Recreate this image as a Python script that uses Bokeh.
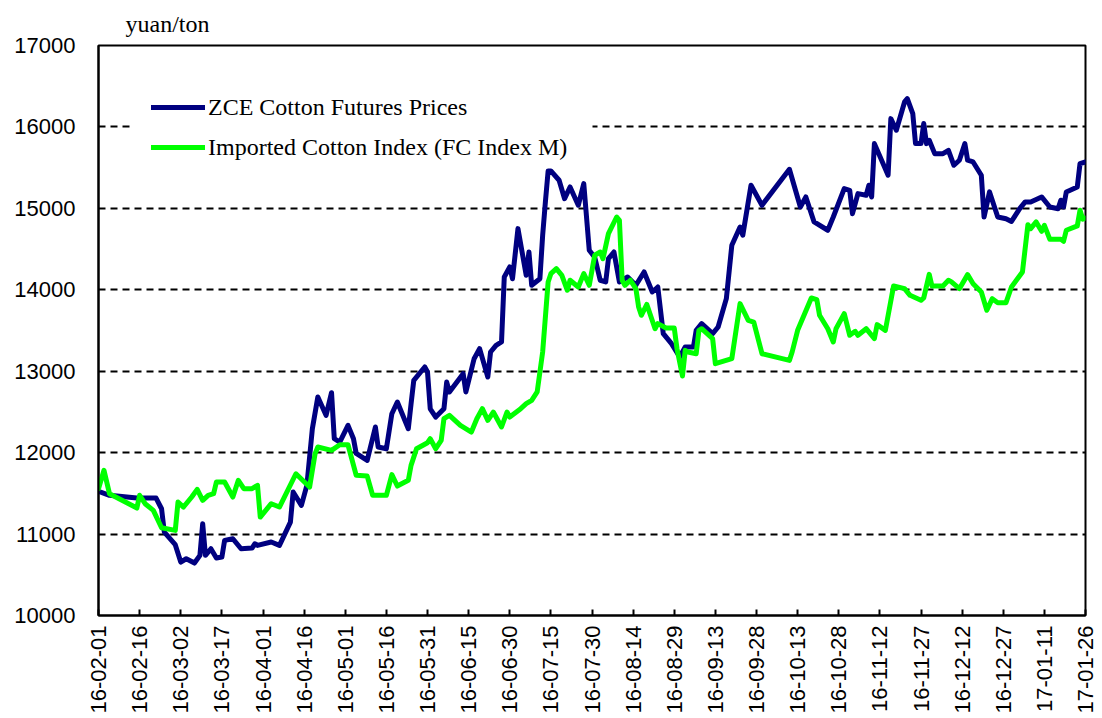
import math
import pandas as pd
from bokeh.plotting import figure
from bokeh.models import (Range1d, FixedTicker, DatetimeTickFormatter, Title, Legend, BoxAnnotation)
from bokeh.embed import file_html
from bokeh.resources import INLINE

# ---------------- data ----------------
zce_dates = [
    "2016-02-01", "2016-02-05", "2016-02-15", "2016-02-22", "2016-02-24", "2016-02-25", "2016-02-29",
    "2016-03-02", "2016-03-04", "2016-03-07", "2016-03-09", "2016-03-10", "2016-03-11", "2016-03-13",
    "2016-03-15", "2016-03-17", "2016-03-18", "2016-03-21", "2016-03-24", "2016-03-28", "2016-03-29",
    "2016-03-30", "2016-04-04", "2016-04-07", "2016-04-11", "2016-04-12", "2016-04-15", "2016-04-17",
    "2016-04-19", "2016-04-21", "2016-04-24", "2016-04-26", "2016-04-27", "2016-04-29", "2016-05-02",
    "2016-05-04", "2016-05-05", "2016-05-09", "2016-05-12", "2016-05-13", "2016-05-16", "2016-05-18",
    "2016-05-20", "2016-05-24", "2016-05-25", "2016-05-26", "2016-05-30", "2016-05-31", "2016-06-01",
    "2016-06-03", "2016-06-06", "2016-06-07", "2016-06-08", "2016-06-13", "2016-06-14", "2016-06-17",
    "2016-06-19", "2016-06-22", "2016-06-23", "2016-06-25", "2016-06-27", "2016-06-28", "2016-06-30",
    "2016-07-01", "2016-07-03", "2016-07-06", "2016-07-07", "2016-07-08", "2016-07-11", "2016-07-12",
    "2016-07-13", "2016-07-14", "2016-07-15", "2016-07-18", "2016-07-20", "2016-07-22", "2016-07-25",
    "2016-07-27", "2016-07-29", "2016-07-31", "2016-08-02", "2016-08-04", "2016-08-05", "2016-08-07",
    "2016-08-09", "2016-08-12", "2016-08-15", "2016-08-18", "2016-08-21", "2016-08-23", "2016-08-25",
    "2016-08-28", "2016-08-31", "2016-09-02", "2016-09-05", "2016-09-06", "2016-09-08", "2016-09-12",
    "2016-09-14", "2016-09-17", "2016-09-19", "2016-09-22", "2016-09-23", "2016-09-26", "2016-09-30",
    "2016-10-10", "2016-10-14", "2016-10-16", "2016-10-19", "2016-10-24", "2016-10-26", "2016-10-30",
    "2016-11-01", "2016-11-02", "2016-11-04", "2016-11-07", "2016-11-08", "2016-11-09", "2016-11-10",
    "2016-11-15", "2016-11-16", "2016-11-18", "2016-11-21", "2016-11-22", "2016-11-24", "2016-11-25",
    "2016-11-27", "2016-11-28", "2016-11-29", "2016-11-30", "2016-12-02", "2016-12-05", "2016-12-07",
    "2016-12-09", "2016-12-11", "2016-12-13", "2016-12-14", "2016-12-16", "2016-12-19", "2016-12-20",
    "2016-12-22", "2016-12-25", "2016-12-28", "2016-12-30", "2017-01-02", "2017-01-04", "2017-01-06",
    "2017-01-10", "2017-01-13", "2017-01-16", "2017-01-17", "2017-01-18", "2017-01-19", "2017-01-23",
    "2017-01-24", "2017-01-26",
]
zce_values = [
    11525, 11476, 11442, 11442, 11311, 11025, 10869,
    10656, 10697, 10644, 10739, 11127, 10739, 10820,
    10706, 10718, 10923, 10943, 10820, 10828, 10881,
    10861, 10902, 10861, 11147, 11516, 11352, 11598,
    12294, 12683, 12458, 12736, 12171, 12130, 12335,
    12171, 11990, 11905, 12315, 12069, 12048, 12478,
    12622, 12294, 12597, 12888, 13052, 12990, 12539,
    12437, 12540, 12867, 12745, 12970, 12745, 13153,
    13277, 12929, 13236, 13318, 13359, 14157, 14280,
    14136, 14751, 14178, 14464, 14055, 14136, 14669,
    15079, 15460, 15460, 15345, 15119, 15263, 15038,
    15304, 14485, 14400, 14117, 14096, 14382, 14464,
    14096, 14157, 14055, 14219, 13973, 14034, 13461,
    13338, 13174, 13297, 13297, 13502, 13584, 13461,
    13543, 13891, 14547, 14771, 14670, 15284, 15038,
    15480, 15017, 15140, 14833, 14731, 14894, 15242,
    15222, 14935, 15181, 15161, 15284, 15140, 15795,
    15407, 16102, 15959, 16307, 16348, 16164, 15795,
    15795, 16041, 15795, 15836, 15672, 15672, 15713,
    15529, 15591, 15795, 15591, 15570, 15407, 14894,
    15202, 14894, 14873, 14840, 14996, 15079, 15079,
    15140, 15017, 14996, 15100, 15017, 15202, 15263,
    15549, 15570,
]

fc_dates = [
    "2016-02-01", "2016-02-03", "2016-02-05", "2016-02-15", "2016-02-16", "2016-02-18", "2016-02-21",
    "2016-02-24", "2016-02-29", "2016-03-01", "2016-03-03", "2016-03-06", "2016-03-08", "2016-03-10",
    "2016-03-12", "2016-03-14", "2016-03-15", "2016-03-18", "2016-03-21", "2016-03-23", "2016-03-25",
    "2016-03-28", "2016-03-30", "2016-03-31", "2016-04-04", "2016-04-07", "2016-04-13", "2016-04-18",
    "2016-04-20", "2016-04-21", "2016-04-26", "2016-04-29", "2016-05-02", "2016-05-05", "2016-05-09",
    "2016-05-11", "2016-05-16", "2016-05-18", "2016-05-20", "2016-05-24", "2016-05-25", "2016-05-27",
    "2016-05-31", "2016-06-01", "2016-06-03", "2016-06-05", "2016-06-06", "2016-06-08", "2016-06-12",
    "2016-06-16", "2016-06-18", "2016-06-20", "2016-06-22", "2016-06-24", "2016-06-27", "2016-06-29",
    "2016-06-30", "2016-07-04", "2016-07-06", "2016-07-08", "2016-07-10", "2016-07-12", "2016-07-14",
    "2016-07-15", "2016-07-17", "2016-07-19", "2016-07-21", "2016-07-22", "2016-07-25", "2016-07-27",
    "2016-07-29", "2016-07-31", "2016-08-02", "2016-08-03", "2016-08-05", "2016-08-08", "2016-08-09",
    "2016-08-10", "2016-08-11", "2016-08-13", "2016-08-15", "2016-08-16", "2016-08-17", "2016-08-19",
    "2016-08-22", "2016-08-23", "2016-08-26", "2016-08-29", "2016-08-30", "2016-09-01", "2016-09-02",
    "2016-09-03", "2016-09-06", "2016-09-07", "2016-09-08", "2016-09-12", "2016-09-13", "2016-09-19",
    "2016-09-22", "2016-09-25", "2016-09-27", "2016-09-30", "2016-10-10", "2016-10-11", "2016-10-13",
    "2016-10-18", "2016-10-20", "2016-10-21", "2016-10-24", "2016-10-26", "2016-10-27", "2016-10-30",
    "2016-11-01", "2016-11-03", "2016-11-04", "2016-11-07", "2016-11-10", "2016-11-11", "2016-11-14",
    "2016-11-17", "2016-11-21", "2016-11-23", "2016-11-27", "2016-11-28", "2016-11-30", "2016-12-01",
    "2016-12-05", "2016-12-07", "2016-12-08", "2016-12-11", "2016-12-14", "2016-12-16", "2016-12-19",
    "2016-12-21", "2016-12-23", "2016-12-25", "2016-12-28", "2016-12-30", "2017-01-03", "2017-01-05",
    "2017-01-06", "2017-01-08", "2017-01-10", "2017-01-11", "2017-01-13", "2017-01-17", "2017-01-18",
    "2017-01-19", "2017-01-23", "2017-01-24", "2017-01-25", "2017-01-26",
]
fc_values = [
    11557, 11783, 11496, 11320, 11476, 11373, 11291,
    11078, 11045, 11393, 11332, 11455, 11549, 11414,
    11476, 11496, 11639, 11639, 11455, 11660, 11557,
    11557, 11598, 11209, 11373, 11332, 11741, 11578,
    11987, 12069, 12028, 12097, 12097, 11721, 11712,
    11476, 11476, 11730, 11590, 11660, 11844, 12048,
    12122, 12171, 12048, 12151, 12417, 12458, 12335,
    12253, 12417, 12540, 12397, 12499, 12315, 12499,
    12437, 12540, 12601, 12642, 12745, 13236, 14096,
    14198, 14259, 14178, 13994, 14117, 14034, 14198,
    14055, 14424, 14464, 14382, 14690, 14894, 14853,
    14117, 14055, 14117, 14014, 13789, 13687, 13820,
    13522, 13584, 13531, 13531, 13277, 12941, 13256,
    13236, 13215, 13502, 13522, 13400, 13092, 13154,
    13830, 13625, 13604, 13215, 13133, 13236, 13502,
    13899, 13880, 13687, 13522, 13359, 13522, 13707,
    13441, 13490, 13441, 13522, 13400, 13572, 13502,
    14047, 14014, 13932, 13871, 13900, 14190, 14047,
    14047, 14117, 14100, 14014, 14186, 14075, 13973,
    13748, 13891, 13842, 13842, 14034, 14219, 14800,
    14751, 14833, 14718, 14792, 14620, 14620, 14596,
    14731, 14784, 14977, 14867, 14880,
]

tick_dates = [
    "2016-02-01", "2016-02-16", "2016-03-02", "2016-03-17", "2016-04-01", "2016-04-16",
    "2016-05-01", "2016-05-16", "2016-05-31", "2016-06-15", "2016-06-30", "2016-07-15",
    "2016-07-30", "2016-08-14", "2016-08-29", "2016-09-13", "2016-09-28", "2016-10-13",
    "2016-10-28", "2016-11-12", "2016-11-27", "2016-12-12", "2016-12-27", "2017-01-11",
    "2017-01-26",
]
y_ticks = [10000, 11000, 12000, 13000, 14000, 15000, 16000, 17000]

series_names = ["ZCE Cotton Futures Prices", "Imported Cotton Index (FC Index M)"]
unit_label = "yuan/ton"

# ---------------- figure ----------------
zx = pd.to_datetime(zce_dates)
fx = pd.to_datetime(fc_dates)
tick_ms = [int(pd.Timestamp(d).value // 10**6) for d in tick_dates]

p = figure(width=1100, height=716, x_axis_type="datetime",
           output_backend="svg", toolbar_location=None,
           min_border_left=98, min_border_right=15, min_border_top=44, min_border_bottom=101)
p.x_range = Range1d(pd.Timestamp(tick_dates[0]), pd.Timestamp(tick_dates[-1]))
p.y_range = Range1d(y_ticks[0], y_ticks[-1])

# grid
p.xgrid.grid_line_color = None
p.ygrid.ticker = FixedTicker(ticks=y_ticks[1:-1])
p.ygrid.grid_line_color = "black"
p.ygrid.grid_line_width = 2
p.ygrid.grid_line_dash = "7 5"

# white backing of the legend area (hides the grid line behind the legend)
p.add_layout(BoxAnnotation(left=35, right=494, bottom=472, top=508,
                           left_units="screen", right_units="screen",
                           bottom_units="screen", top_units="screen",
                           fill_color="white", fill_alpha=1.0, line_color=None,
                           level="underlay"))

r1 = p.line(zx, zce_values, line_color="#000080", line_width=5, line_join="round", line_cap="round")
r2 = p.line(fx, fc_values, line_color="#00FF00", line_width=5, line_join="round", line_cap="round")

# axes
p.xaxis.ticker = FixedTicker(ticks=tick_ms)
fmt = "%y-%m-%d"
p.xaxis.formatter = DatetimeTickFormatter(
    milliseconds=fmt, seconds=fmt, minsec=fmt, minutes=fmt, hourmin=fmt, hours=fmt,
    days=fmt, months=fmt, years=fmt)
p.xaxis.major_label_orientation = math.pi / 2
p.xaxis.major_label_text_font = "Liberation Sans"
p.xaxis.major_label_text_font_size = "22px"
p.xaxis.major_label_text_color = "black"
p.xaxis.major_label_standoff = 10
p.xaxis.major_tick_in = 6
p.xaxis.major_tick_out = 0
p.xaxis.major_tick_line_color = "black"
p.xaxis.major_tick_line_width = 2
p.xaxis.minor_tick_line_color = None
p.xaxis.axis_line_color = "black"
p.xaxis.axis_line_width = 2

p.yaxis.ticker = FixedTicker(ticks=y_ticks)
p.yaxis.major_label_text_font = "Liberation Sans"
p.yaxis.major_label_text_font_size = "22px"
p.yaxis.major_label_text_color = "black"
p.yaxis.major_label_standoff = 23
p.yaxis.major_tick_in = 0
p.yaxis.major_tick_out = 0
p.yaxis.minor_tick_line_color = None
p.yaxis.axis_line_color = "black"
p.yaxis.axis_line_width = 2

p.outline_line_color = "black"
p.outline_line_width = 2
p.background_fill_color = "white"
p.border_fill_color = "white"

# legend
legend = Legend(items=[(series_names[0], [r1]), (series_names[1], [r2])],
                location=(53, 450), margin=0, padding=20, spacing=4,
                glyph_width=54, glyph_height=36, label_height=36, label_standoff=3,
                label_text_font="Liberation Serif", label_text_font_size="24px",
                label_text_color="black", background_fill_color="white",
                background_fill_alpha=1.0, border_line_color=None)
p.add_layout(legend)

# unit label above the plot frame
p.title = Title(text=unit_label, align="left", offset=27, standoff=17,
                text_font="Liberation Serif", text_font_size="24px", text_line_height=1.0,
                text_font_style="normal", text_color="black")

open("out.html", "w").write(file_html(p, INLINE))
